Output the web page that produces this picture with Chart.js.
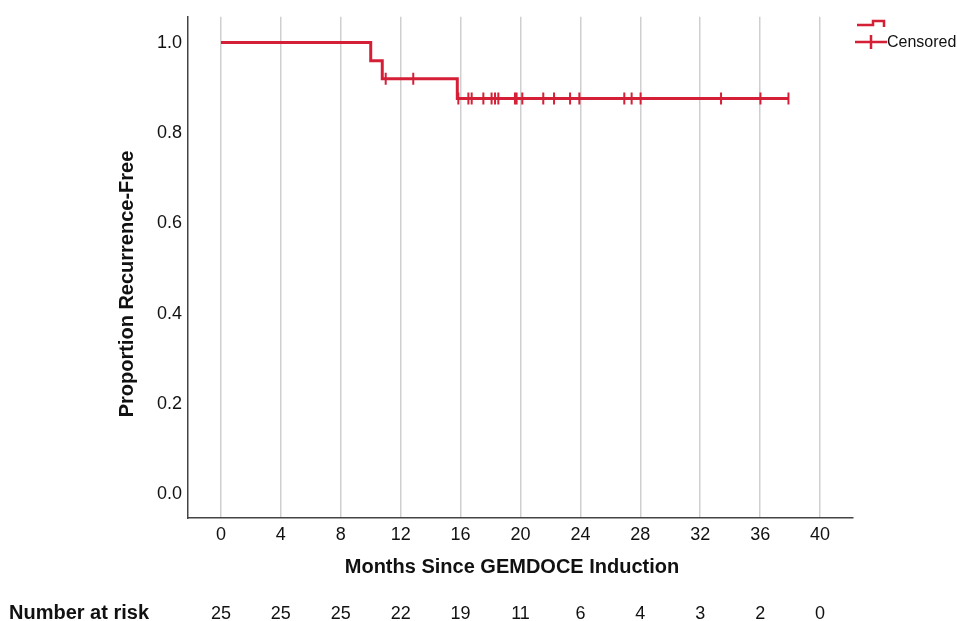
<!DOCTYPE html>
<html>
<head>
<meta charset="utf-8">
<title>Recurrence-free survival after GEMDOCE induction</title>
<script src="https://cdn.jsdelivr.net/npm/chart.js@4"></script>
<style>
  body { margin: 0; background: #fff; }
  #wrap { width: 957px; height: 621px; position: relative; }
</style>
</head>
<body>
<div id="wrap"><canvas id="km"></canvas></div>
<script>
// values
const stepMonths   = [0, 10.0, 10.77, 15.78, 37.89]
const stepSurvival = [1.0, 0.96, 0.92, 0.876, 0.876]
const censorMonths = [11.0, 12.84, 15.85, 16.52, 16.74, 17.52, 18.07, 18.30, 18.52,
                      19.63, 19.74, 20.12, 21.52, 22.24, 23.31, 23.93, 26.93, 27.42,
                      28.02, 33.39, 36.02, 37.89]
const xTicks = [0, 4, 8, 12, 16, 20, 24, 28, 32, 36, 40]
const yTicks = [0.0, 0.2, 0.4, 0.6, 0.8, 1.0]
const atRisk = [25, 25, 25, 22, 19, 11, 6, 4, 3, 2, 0]

const RED = '#d41f36'
const FONT = '"Liberation Sans", Arial, Helvetica, sans-serif'

// survival level of the step curve at time t
function survivalAt(t) {
  let s = stepSurvival[0]
  for (let i = 0; i < stepMonths.length; i++) {
    if (stepMonths[i] <= t) s = stepSurvival[i]
  }
  return s
}

function stepPoints() {
  return stepMonths.map((m, i) => ({ x: m, y: stepSurvival[i] }))
}

function censorPoints() {
  return censorMonths.map(m => ({ x: m, y: survivalAt(m) }))
}

const extras = {
  id: 'extras',
  afterDraw(chart) {
    const ctx = chart.ctx
    const xs = chart.scales.x
    ctx.save()
    ctx.fillStyle = '#111'

    // axis titles
    ctx.font = 'bold 20px ' + FONT
    ctx.textAlign = 'center'
    ctx.textBaseline = 'middle'
    ctx.fillText('Months Since GEMDOCE Induction', 512, 567)
    ctx.save()
    ctx.translate(127, 284)
    ctx.rotate(-Math.PI / 2)
    ctx.fillText('Proportion Recurrence-Free', 0, 0)
    ctx.restore()

    // number at risk row
    ctx.textBaseline = 'alphabetic'
    ctx.textAlign = 'left'
    ctx.fillText('Number at risk', 9, 619)
    ctx.font = '18px ' + FONT
    ctx.textAlign = 'center'
    xTicks.forEach((t, i) => {
      ctx.fillText(String(atRisk[i]), xs.getPixelForValue(t), 619)
    })

    // legend
    ctx.strokeStyle = RED
    ctx.lineWidth = 2.5
    ctx.beginPath()
    ctx.moveTo(857, 25)
    ctx.lineTo(873, 25)
    ctx.lineTo(873, 21)
    ctx.lineTo(884, 21)
    ctx.lineTo(884, 27)
    ctx.stroke()
    ctx.beginPath()
    ctx.moveTo(855, 42)
    ctx.lineTo(887, 42)
    ctx.moveTo(871, 35)
    ctx.lineTo(871, 49)
    ctx.stroke()
    ctx.fillStyle = '#111'
    ctx.font = '16px ' + FONT
    ctx.textAlign = 'left'
    ctx.textBaseline = 'middle'
    ctx.fillText('Censored', 887, 43)
    ctx.restore()
  }
}

const chart = new Chart(document.getElementById('km'), {
  type: 'line',
  data: {
    datasets: [
      {
        label: 'Survival',
        data: stepPoints(),
        stepped: 'before',
        borderColor: RED,
        borderWidth: 3,
        pointRadius: 0,
        fill: false
      },
      {
        label: 'Censored',
        type: 'scatter',
        data: censorPoints(),
        showLine: false,
        pointStyle: 'line',
        rotation: 90,
        pointRadius: 6,
        pointHoverRadius: 6,
        borderColor: RED,
        borderWidth: 2
      }
    ]
  },
  options: {
    responsive: true,
    maintainAspectRatio: false,
    animation: false,
    layout: { padding: { left: 0, top: 14, right: 104, bottom: 0 } },
    plugins: {
      legend: { display: false },
      tooltip: { enabled: false }
    },
    scales: {
      x: {
        type: 'linear',
        min: -2.2,
        max: 42.2,
        afterBuildTicks: s => { s.ticks = xTicks.map(v => ({ value: v })) },
        afterFit: s => { s.height = 103 },
        ticks: {
          color: '#111',
          padding: 6,
          font: { family: FONT, size: 18 },
          callback: v => String(v)
        },
        grid: { color: '#cfcfcf', lineWidth: 1.5, drawTicks: false },
        border: { display: true, color: '#444', width: 1.5 }
      },
      y: {
        type: 'linear',
        min: -0.052,
        max: 1.057,
        afterBuildTicks: s => { s.ticks = yTicks.map(v => ({ value: v })) },
        afterFit: s => { s.width = 188 },
        ticks: {
          color: '#111',
          padding: 6,
          font: { family: FONT, size: 18 },
          callback: v => v.toFixed(1)
        },
        grid: { display: false, drawTicks: false },
        border: { display: true, color: '#444', width: 1.5 }
      }
    }
  },
  plugins: [extras]
})
</script>
</body>
</html>
